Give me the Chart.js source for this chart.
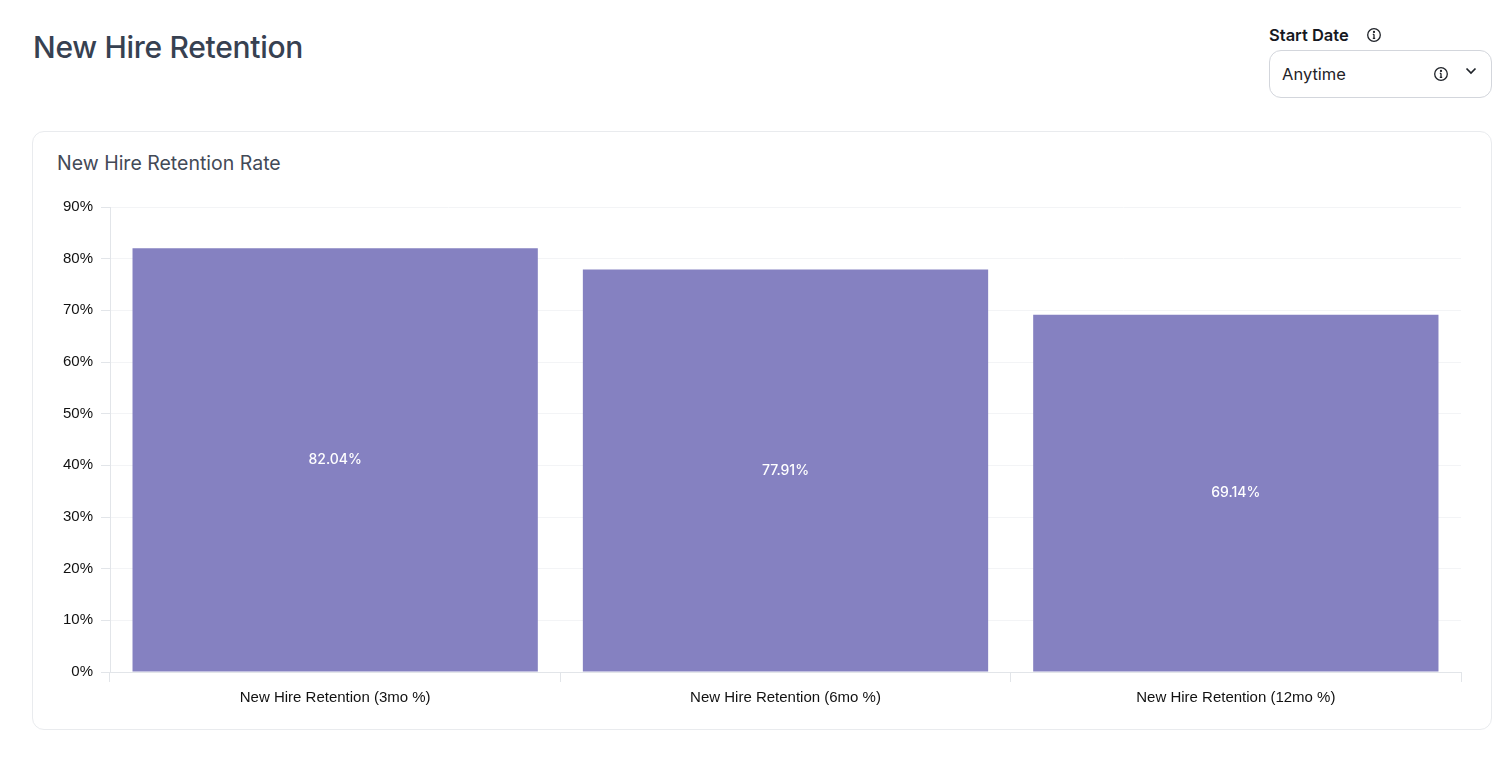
<!DOCTYPE html>
<html>
<head>
<meta charset="utf-8">
<title>New Hire Retention</title>
<script src="https://cdn.jsdelivr.net/npm/chart.js@4"></script>
<style>
  html, body { margin: 0; padding: 0; background: #fff; width: 1512px; height: 762px; overflow: hidden; font-family: Inter, sans-serif; }
  .abs { position: absolute; }
  h1 { left: 33px; top: 28px; margin: 0; font-size: 30px; line-height: 38px; font-weight: 500; color: #374151; letter-spacing: -0.3px; }
  .label { left: 1269px; top: 24px; font-size: 16.5px; line-height: 22px; font-weight: 600; color: #16191f; }
  .select { left: 1269px; top: 50px; width: 221px; height: 46px; border: 1px solid #d3d6dc; border-radius: 12px; }
  .select span { position: absolute; left: 12px; top: 12px; font-size: 16.5px; line-height: 22px; color: #1f2329; }
  .card { left: 32px; top: 131px; width: 1458px; height: 597px; border: 1px solid #e9ebee; border-radius: 12px; }
  .title { left: 57px; top: 150px; font-size: 19.5px; line-height: 26px; color: #434a57; }
  #wrap { left: 50px; top: 190px; width: 1420px; height: 530px; }
  svg { position: absolute; }
</style>
</head>
<body>
<h1 class="abs">New Hire Retention</h1>
<div class="abs label">Start Date</div>
<svg style="left:1366px;top:27px" width="16" height="16" viewBox="0 0 16 16" fill="none" stroke="#1f2329" stroke-width="1.3"><circle cx="8" cy="8" r="6.3"/><path d="M8 7.3v4M6.8 11.3h2.4M6.8 7.3H8"/><circle cx="8" cy="4.9" r=".5" fill="#1f2329"/></svg>
<div class="abs select"><span>Anytime</span></div>
<svg style="left:1433px;top:66px" width="16" height="16" viewBox="0 0 16 16" fill="none" stroke="#1f2329" stroke-width="1.3"><circle cx="8" cy="8" r="6.3"/><path d="M8 7.3v4M6.8 11.3h2.4M6.8 7.3H8"/><circle cx="8" cy="4.9" r=".5" fill="#1f2329"/></svg>
<svg style="left:1464px;top:64px" width="14" height="14" viewBox="0 0 14 14" fill="none" stroke="#1f2329" stroke-width="1.7"><path d="M2.5 4.5L7 9l4.5-4.5"/></svg>
<div class="abs card"></div>
<div class="abs title">New Hire Retention Rate</div>
<div id="wrap" class="abs"><canvas id="retentionChart"></canvas></div>
<script>
const categories = ['New Hire Retention (3mo %)', 'New Hire Retention (6mo %)', 'New Hire Retention (12mo %)'];
const retention = [82.04, 77.91, 69.14];

const barLabels = {
  id: 'barLabels',
  afterDatasetsDraw(chart) {
    const ctx = chart.ctx;
    ctx.save();
    ctx.fillStyle = '#ffffff';
    ctx.font = '500 14px Inter, sans-serif';
    ctx.textAlign = 'center';
    ctx.textBaseline = 'middle';
    chart.getDatasetMeta(0).data.forEach(function (bar, i) {
      ctx.fillText(retention[i].toFixed(2) + '%', bar.x, (bar.y + bar.base) / 2);
    });
    ctx.restore();
  }
};

new Chart(document.getElementById('retentionChart'), {
  type: 'bar',
  data: {
    labels: categories,
    datasets: [{
      label: 'New Hire Retention Rate',
      data: retention,
      backgroundColor: '#8581c1',
      barPercentage: 0.9,
      categoryPercentage: 1
    }]
  },
  options: {
    responsive: true,
    maintainAspectRatio: false,
    animation: false,
    layout: { padding: { top: 12, right: 9, bottom: 0, left: 0 } },
    plugins: { legend: { display: false }, tooltip: { enabled: false } },
    scales: {
      x: {
        afterFit: function (scale) { scale.height = 48; },
        grid: { display: true, drawOnChartArea: false, drawTicks: true, tickLength: 10, color: '#e2e5e9' },
        border: { color: '#e2e5e9' },
        ticks: { color: '#111111', font: { family: 'Liberation Sans, Arial, sans-serif', size: 15 }, padding: 7, maxRotation: 0 }
      },
      y: {
        min: 0,
        max: 90,
        afterFit: function (scale) { scale.width = 60; },
        grid: { color: '#f3f4f6', tickColor: '#e2e5e9', tickLength: 9 },
        border: { color: '#e2e5e9' },
        ticks: {
          stepSize: 10,
          color: '#111111',
          font: { family: 'Liberation Sans, Arial, sans-serif', size: 15 },
          padding: 8,
          callback: function (v) { return v + '%'; }
        }
      }
    }
  },
  plugins: [barLabels]
});
</script>
</body>
</html>
